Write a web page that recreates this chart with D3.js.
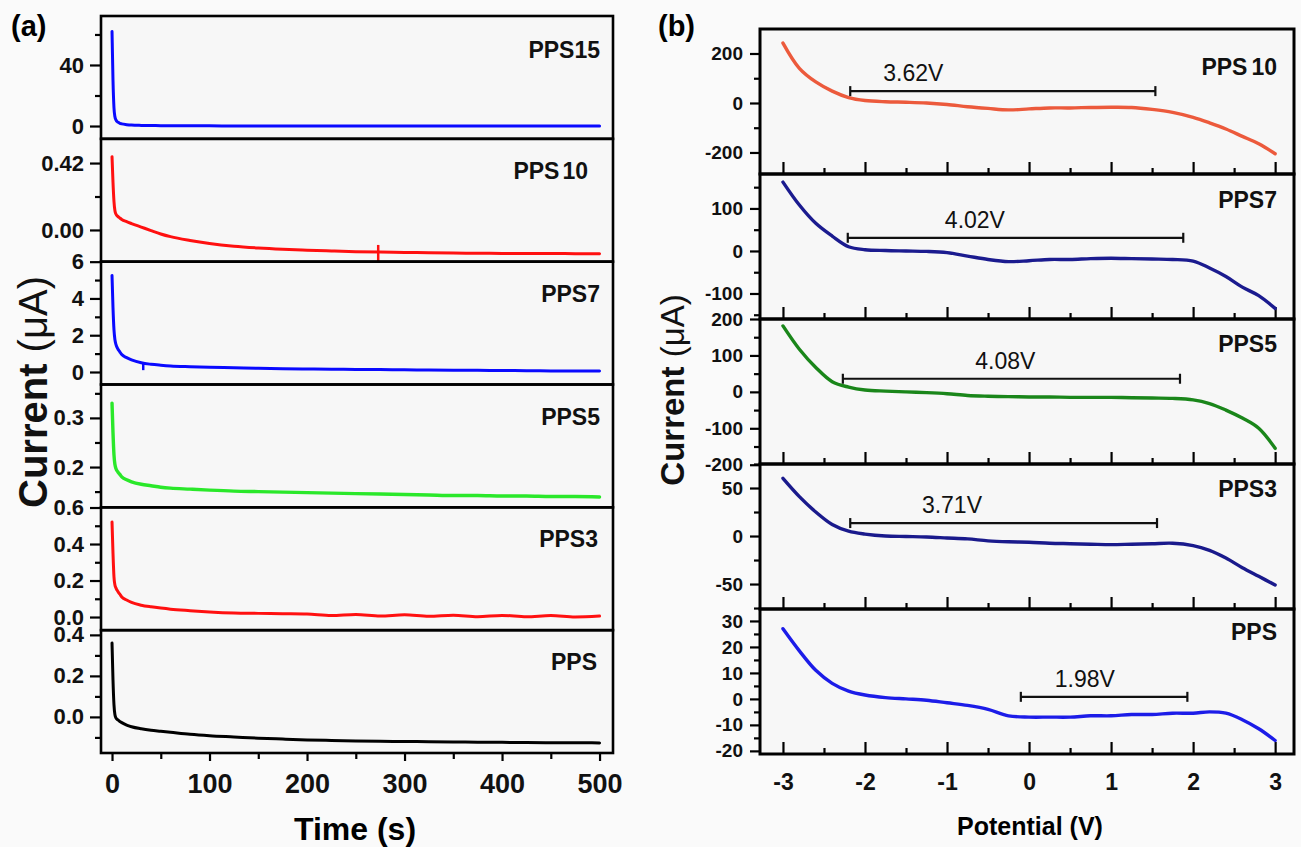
<!DOCTYPE html>
<html><head><meta charset="utf-8">
<script src="https://cdn.jsdelivr.net/npm/d3@7"></script>
<style>body{margin:0;background:#fafafa}svg{display:block}</style>
</head><body>
<svg id="c" width="1301" height="847"></svg>
<script>
// ---------- Panel (a): current vs time ----------
const timeS = [0,1,2,3,4,6,8,10,15,20,30,40,50,60,80,100,125,150,175,200,225,250,275,300,325,350,375,400,425,450,475,500];
const ampPPS15 = [62,30,12,6,4,2.5,1.8,1.4,0.9,0.6,0.4,0.3,0.25,0.2,0.15,0.1,0.08,0.06,0.05,0.04,0.03,0.03,0.02,0.02,0.02,0.01,0.01,0.01,0.01,0.0,0.0,0.0];
const ampPPS10 = [0.46,0.30,0.18,0.12,0.10,0.085,0.075,0.066,0.052,0.04,0.018,-0.004,-0.025,-0.042,-0.066,-0.085,-0.102,-0.113,-0.121,-0.127,-0.132,-0.136,-0.139,-0.141,-0.143,-0.145,-0.146,-0.147,-0.148,-0.148,-0.149,-0.15];
const ampPPS7  = [5.25,3.5,2.3,1.75,1.5,1.25,1.1,0.95,0.78,0.66,0.5,0.42,0.37,0.33,0.29,0.26,0.23,0.2,0.18,0.16,0.15,0.14,0.13,0.12,0.11,0.1,0.09,0.08,0.07,0.06,0.055,0.05];
const ampPPS5  = [0.33,0.27,0.225,0.205,0.197,0.19,0.185,0.18,0.174,0.17,0.165,0.162,0.159,0.157,0.155,0.153,0.151,0.15,0.149,0.148,0.147,0.146,0.145,0.144,0.143,0.142,0.142,0.141,0.141,0.14,0.14,0.139];
const ampPPS3  = [0.52,0.35,0.22,0.175,0.16,0.14,0.125,0.11,0.093,0.08,0.065,0.056,0.049,0.043,0.035,0.028,0.022,0.02,0.018,0.016,0.008,0.014,0.006,0.012,0.004,0.01,0.002,0.009,0.001,0.008,0.0,0.005];
const ampPPS   = [0.36,0.18,0.06,0.01,-0.005,-0.015,-0.022,-0.028,-0.04,-0.048,-0.058,-0.065,-0.07,-0.075,-0.085,-0.092,-0.098,-0.104,-0.108,-0.112,-0.115,-0.117,-0.119,-0.12,-0.121,-0.122,-0.123,-0.124,-0.125,-0.126,-0.126,-0.127];

const leftNames   = ["PPS15","PPS10","PPS7","PPS5","PPS3","PPS"];
const leftSeries  = [ampPPS15, ampPPS10, ampPPS7, ampPPS5, ampPPS3, ampPPS];
const leftColors  = ["#0a0aff","#ff1010","#0a0aff","#2ae82a","#ff1010","#000000"];
const leftDomains = [[-8.4,72.1],[-0.199,0.572],[-0.68,6.0],[0.118,0.368],[-0.072,0.601],[-0.176,0.423]];
const leftMajor   = [[0,40],[0,0.42],[0,2,4,6],[0.2,0.3],[0,0.2,0.4,0.6],[0,0.2,0.4]];
const leftMinor   = [[20,60],[0.21],[1,3,5],[0.15,0.25,0.35],[0.1,0.3,0.5],[-0.1,0.1,0.3]];
const leftFormats = ["d",".2f","d",".1f",".1f",".1f"];
const timeDomain  = [-11.3, 513.8];
const timeMajor   = [0,100,200,300,400,500];
const timeMinor   = [50,150,250,350,450];
// measurement glitches visible in the traces: [panel index, time, low, high]
const glitchPanel = [1, 2];
const glitchTime  = [273, 32];
const glitchLow   = [-0.2, 0.1];
const glitchHigh  = [-0.094, 0.47];

// ---------- Panel (b): current vs potential ----------
const potential = [-3,-2.8,-2.6,-2.4,-2.2,-2.0,-1.75,-1.5,-1.25,-1.0,-0.75,-0.5,-0.25,0,0.25,0.5,0.75,1.0,1.25,1.5,1.75,2.0,2.2,2.4,2.6,2.8,3.0];
const curPPS10 = [242,140,85,48,22,10,5,3,0,-6,-15,-22,-28,-24,-20,-20,-18,-17,-18,-26,-38,-58,-80,-105,-135,-165,-205];
const curPPS7  = [162,108,65,35,10,3,1,0,-1,-4,-12,-20,-25,-23,-20,-20,-18,-17,-18,-19,-20,-24,-40,-60,-85,-105,-135];
const curPPS5  = [181,117,67,28,13,5,2,0,-2,-5,-10,-12,-13,-14,-14,-15,-15,-15,-16,-17,-18,-22,-32,-50,-72,-100,-155];
const curPPS3  = [60,41,25,12,5,2,0,-0.5,-1,-2,-3,-5,-6,-6.5,-7.5,-8,-8.5,-9,-8.5,-8,-7.5,-10,-15,-23,-33,-42,-51];
const curPPS   = [27,18.5,11,6,3,1.5,0.5,0,-0.5,-1.5,-2.5,-4,-6.5,-7,-7,-7,-6.5,-6.5,-6,-6,-5.5,-5.5,-5,-5.5,-8,-11.5,-16];

const rightNames   = ["PPS10","PPS7","PPS5","PPS3","PPS"];
const rightSeries  = [curPPS10, curPPS7, curPPS5, curPPS3, curPPS];
const rightColors  = ["#ec5a3c","#1b1b8f","#1a861a","#1a1a8c","#1c1ce8"];
const rightDomains = [[-287,299],[-160,181],[-198,200],[-76,75],[-21.2,34.6]];
const rightMajor   = [[-200,0,200],[-100,0,100],[-200,-100,0,100,200],[-50,0,50],[-20,-10,0,10,20,30]];
const rightMinor   = [[-100,100],[-150,-50,50,150],[-150,-50,50,150],[-75,-25,25,75],[-15,-5,5,15,25]];
const potDomain    = [-3.28, 3.23];
const potMajor     = [-3,-2,-1,0,1,2,3];
const potMinor     = [-2.5,-1.5,-0.5,0.5,1.5,2.5];
// stability-window annotations
const gapStart = [-2.18,-2.21,-2.27,-2.18,-0.10];
const gapEnd   = [1.54,1.88,1.84,1.56,1.93];
const gapLevel = [48,31,36,13.5,0.8];
const gapText  = ["3.62V","4.02V","4.08V","3.71V","1.98V"];
const gapTextX = [-1.41,-0.66,-0.29,-0.94,0.68];

// ---------- drawing ----------
const FONT = "'Liberation Sans', Arial, Helvetica, sans-serif";
const svg = d3.select("#c");
svg.append("rect").attr("width",1301).attr("height",847).attr("fill","#fafafa");
const hy = f => (d => f(d).replace("\u2212","-"));

function styleAxis(g, fs, bold){
  g.select(".domain").remove();
  g.selectAll("line").attr("stroke","#000").attr("stroke-width",2.2);
  g.selectAll("text").attr("font-family",FONT).attr("font-size",fs)
    .attr("font-weight",bold?"bold":"normal").attr("fill","#111");
}

// ----- left -----
(function(){
  const L=101, R=613, T=16, B=753, n=6, h=(B-T)/n;
  const x = d3.scaleLinear().domain(timeDomain).range([L,R]);
  const labelRight = [600,588,600,600,598,597];
  leftNames.forEach((name,i)=>{
    const top=T+i*h, bot=top+h;
    const y = d3.scaleLinear().domain(leftDomains[i]).range([bot,top]);
    const g = svg.append("g");
    g.append("rect").attr("x",L).attr("y",top).attr("width",R-L).attr("height",h)
      .attr("fill","#f7f7f7").attr("stroke","none");
    const ax = g.append("g").attr("transform",`translate(${L},0)`)
      .call(d3.axisLeft(y).tickValues(leftMajor[i]).tickSize(11).tickPadding(6).tickFormat(hy(d3.format(leftFormats[i]))));
    styleAxis(ax,22,true);
    const axm = g.append("g").attr("transform",`translate(${L},0)`)
      .call(d3.axisLeft(y).tickValues(leftMinor[i]).tickSize(6).tickFormat(""));
    styleAxis(axm,22,true);
    const data = timeS.map((t,k)=>[t,leftSeries[i][k]]);
    g.append("path").datum(data)
      .attr("d",d3.line().x(d=>x(d[0])).y(d=>y(d[1])).curve(d3.curveMonotoneX))
      .attr("fill","none").attr("stroke",leftColors[i]).attr("stroke-width",i===3?3.4:3)
      .attr("stroke-linejoin","round").attr("stroke-linecap","round");
    glitchPanel.forEach((p,k)=>{
      if(p!==i) return;
      g.append("line").attr("x1",x(glitchTime[k])).attr("x2",x(glitchTime[k]))
        .attr("y1",y(glitchLow[k])).attr("y2",y(glitchHigh[k]))
        .attr("stroke",leftColors[i]).attr("stroke-width",2.5);
    });
    const lab = g.append("text").attr("x",labelRight[i]).attr("y",top+(i===0?42:40))
      .attr("text-anchor","end").attr("font-family",FONT).attr("font-size",23)
      .attr("font-weight","bold").attr("fill","#111");
    const m = name.match(/^(PPS)(\d*)$/);
    lab.append("tspan").text(m[1]);
    if(m[2]) lab.append("tspan").attr("dx",name==="PPS10"?3:0).text(m[2]);
  });
  leftNames.forEach((_,i)=>{
    svg.append("rect").attr("x",L).attr("y",T+i*h).attr("width",R-L).attr("height",h)
      .attr("fill","none").attr("stroke","#000").attr("stroke-width",2.6);
  });
  const bx = svg.append("g").attr("transform",`translate(0,${B})`)
    .call(d3.axisBottom(x).tickValues(timeMajor).tickSize(8).tickPadding(13).tickFormat(d3.format("d")));
  styleAxis(bx,27,true);
  const bxm = svg.append("g").attr("transform",`translate(0,${B})`)
    .call(d3.axisBottom(x).tickValues(timeMinor).tickSize(6).tickFormat(""));
  styleAxis(bxm,27,true);
  svg.append("text").attr("x",355).attr("y",840).attr("text-anchor","middle")
    .attr("font-family",FONT).attr("font-size",32).attr("font-weight","bold").text("Time (s)");
  const yt = svg.append("text").attr("transform","translate(47,392) rotate(-90)")
    .attr("text-anchor","middle").attr("font-family",FONT).attr("font-size",40).attr("fill","#111");
  yt.append("tspan").attr("font-weight","bold").text("Current ");
  yt.append("tspan").text("(μA)");
  svg.append("text").attr("x",11).attr("y",36).attr("font-family",FONT).attr("font-size",29)
    .attr("font-weight","bold").text("(a)");
})();

// ----- right -----
(function(){
  const L=760, R=1294, T=29, B=754, n=5, h=(B-T)/n;
  const x = d3.scaleLinear().domain(potDomain).range([L,R]);
  const labelDy = [46,34,33,33,31];
  rightNames.forEach((name,i)=>{
    const top=T+i*h, bot=top+h;
    const y = d3.scaleLinear().domain(rightDomains[i]).range([bot,top]);
    const g = svg.append("g");
    g.append("rect").attr("x",L).attr("y",top).attr("width",R-L).attr("height",h)
      .attr("fill","#f7f7f7");
    const ax = g.append("g").attr("transform",`translate(${L},0)`)
      .call(d3.axisLeft(y).tickValues(rightMajor[i]).tickSize(10).tickPadding(7).tickFormat(hy(d3.format("d"))));
    styleAxis(ax,19,true);
    const axm = g.append("g").attr("transform",`translate(${L},0)`)
      .call(d3.axisLeft(y).tickValues(rightMinor[i]).tickSize(6).tickFormat(""));
    styleAxis(axm,19,true);
    const tx = g.append("g").attr("transform",`translate(0,${bot})`)
      .call(d3.axisTop(x).tickValues(potMajor).tickSize(12).tickFormat(""));
    styleAxis(tx,19,true);
    const txm = g.append("g").attr("transform",`translate(0,${bot})`)
      .call(d3.axisTop(x).tickValues(potMinor).tickSize(6).tickFormat(""));
    styleAxis(txm,19,true);
    const data = potential.map((v,k)=>[v,rightSeries[i][k]]);
    g.append("path").datum(data)
      .attr("d",d3.line().x(d=>x(d[0])).y(d=>y(d[1])).curve(d3.curveCatmullRom.alpha(0.5)))
      .attr("fill","none").attr("stroke",rightColors[i]).attr("stroke-width",3.4)
      .attr("stroke-linecap","round");
    const by = y(gapLevel[i]), x1=x(gapStart[i]), x2=x(gapEnd[i]);
    g.append("line").attr("x1",x1).attr("x2",x2).attr("y1",by).attr("y2",by)
      .attr("stroke","#111").attr("stroke-width",2.2);
    [x1,x2].forEach(xx=>g.append("line").attr("x1",xx).attr("x2",xx).attr("y1",by-5).attr("y2",by+5)
      .attr("stroke","#111").attr("stroke-width",2.2));
    g.append("text").attr("x",x(gapTextX[i])).attr("y",by-10).attr("text-anchor","middle")
      .attr("font-family",FONT).attr("font-size",23).attr("fill","#111").text(gapText[i]);
    const lab = g.append("text").attr("x",1277).attr("y",top+labelDy[i])
      .attr("text-anchor","end").attr("font-family",FONT).attr("font-size",23)
      .attr("font-weight","bold").attr("fill","#111");
    const m = name.match(/^(PPS)(\d*)$/);
    lab.append("tspan").text(m[1]);
    if(m[2]) lab.append("tspan").attr("dx",name==="PPS10"?4:0).text(m[2]);
  });
  rightNames.forEach((_,i)=>{
    svg.append("rect").attr("x",L).attr("y",T+i*h).attr("width",R-L).attr("height",h)
      .attr("fill","none").attr("stroke","#000").attr("stroke-width",3);
  });
  const bx = svg.append("g").attr("transform",`translate(0,${B})`)
    .call(d3.axisBottom(x).tickValues(potMajor).tickSize(0).tickPadding(20).tickFormat(hy(d3.format("d"))));
  styleAxis(bx,23,true);
  svg.append("text").attr("x",1030).attr("y",835).attr("text-anchor","middle")
    .attr("font-family",FONT).attr("font-size",25).attr("font-weight","bold").text("Potential (V)");
  const yt = svg.append("text").attr("transform","translate(684,390) rotate(-90)")
    .attr("text-anchor","middle").attr("font-family",FONT).attr("font-size",33).attr("fill","#111");
  yt.append("tspan").attr("font-weight","bold").text("Current ");
  yt.append("tspan").text("(μA)");
  svg.append("text").attr("x",658).attr("y",36).attr("font-family",FONT).attr("font-size",29)
    .attr("font-weight","bold").text("(b)");
})();
</script>
</body></html>
